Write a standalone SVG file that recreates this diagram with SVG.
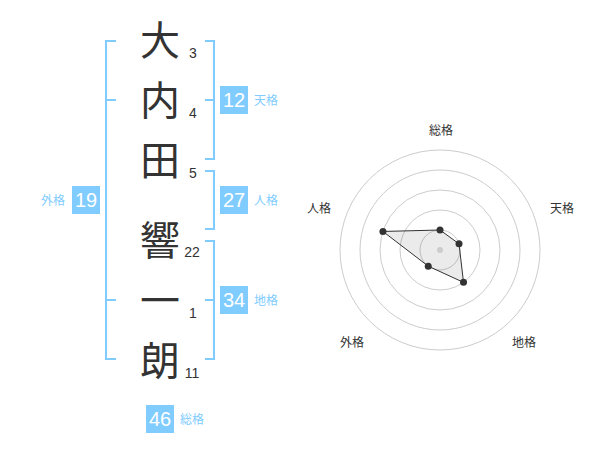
<svg xmlns="http://www.w3.org/2000/svg" width="600" height="470" viewBox="0 0 600 470">
<style>
.kanji{font-family:"Noto Sans CJK JP","Noto Sans CJK SC",sans-serif;font-size:40px;fill:#333;text-anchor:middle}
.stroke{font-family:"Liberation Sans",Arial,sans-serif;font-size:14px;fill:#333;text-anchor:middle}
.br{fill:none;stroke:#80ccff;stroke-width:2}
.box{fill:#80ccff}
.boxnum{font-family:"Liberation Sans",Arial,sans-serif;font-size:20px;fill:#fff;text-anchor:middle}
.blab{font-family:"Noto Sans CJK JP","Noto Sans CJK SC",sans-serif;font-size:12px;fill:#80ccff}
.ring{fill:none;stroke:#cccccc;stroke-width:1}
.rlab{font-family:"Noto Sans CJK JP","Noto Sans CJK SC",sans-serif;font-size:12px;fill:#333;text-anchor:middle}
.pt{fill:#333}
</style>
<rect width="600" height="470" fill="#fff"/>
<g id="name">
<text class="kanji" x="160" y="55">大</text>
<text class="kanji" x="160" y="115">内</text>
<text class="kanji" x="160" y="175">田</text>
<text class="kanji" x="160" y="255">響</text>
<text class="kanji" x="160" y="315">一</text>
<text class="kanji" x="160" y="375">朗</text>
<text class="stroke" x="193" y="58">3</text>
<text class="stroke" x="193" y="118">4</text>
<text class="stroke" x="193" y="178">5</text>
<text class="stroke" x="192" y="257">22</text>
<text class="stroke" x="193" y="318">1</text>
<text class="stroke" x="192" y="378">11</text>
</g>
<g id="connectors">
<path class="br" d="M116,41 H106 V359 H116 M106,100 H116 M106,300 H116"/>
<path class="br" d="M205,41 H214 V159 H205 M205,100 H214"/>
<path class="br" d="M205,171 H214 V229 H205"/>
<path class="br" d="M205,241 H214 V359 H205 M205,300 H214"/>
</g>
<g id="tenkaku">
<rect class="box" x="220" y="86" width="28" height="28"/>
<text class="boxnum" x="234" y="107">12</text>
<text class="blab" x="254" y="104.5">天格</text>
</g>
<g id="jinkaku">
<rect class="box" x="220" y="186" width="28" height="28"/>
<text class="boxnum" x="234" y="207">27</text>
<text class="blab" x="254" y="204.5">人格</text>
</g>
<g id="chikaku">
<rect class="box" x="220" y="286" width="28" height="28"/>
<text class="boxnum" x="234" y="307">34</text>
<text class="blab" x="254" y="304.5">地格</text>
</g>
<g id="gaikaku">
<rect class="box" x="72" y="186" width="28" height="28"/>
<text class="boxnum" x="86" y="207">19</text>
<text class="blab" x="41" y="204.5">外格</text>
</g>
<g id="soukaku">
<rect class="box" x="146" y="405" width="28" height="28"/>
<text class="boxnum" x="160" y="426">46</text>
<text class="blab" x="180" y="423.5">総格</text>
</g>
<g id="radar">
<circle class="ring" cx="440" cy="250" r="20"/>
<circle class="ring" cx="440" cy="250" r="40"/>
<circle class="ring" cx="440" cy="250" r="60"/>
<circle class="ring" cx="440" cy="250" r="80"/>
<circle class="ring" cx="440" cy="250" r="100"/>
<polygon points="440,230 459.02,243.82 463.51,282.36 428.24,266.18 382.94,231.46" fill="#000" fill-opacity="0.08" stroke="#333" stroke-width="1"/>
<circle cx="440" cy="250" r="3" fill="#cccccc"/>
<circle class="pt" cx="440" cy="230" r="3.5"/>
<circle class="pt" cx="459.02" cy="243.82" r="3.5"/>
<circle class="pt" cx="463.51" cy="282.36" r="3.5"/>
<circle class="pt" cx="428.24" cy="266.18" r="3.5"/>
<circle class="pt" cx="382.94" cy="231.46" r="3.5"/>
<text class="rlab" x="441" y="135">総格</text>
<text class="rlab" x="562" y="212.5">天格</text>
<text class="rlab" x="319" y="212.5">人格</text>
<text class="rlab" x="352" y="346.5">外格</text>
<text class="rlab" x="524" y="346.5">地格</text>
</g>
</svg>
